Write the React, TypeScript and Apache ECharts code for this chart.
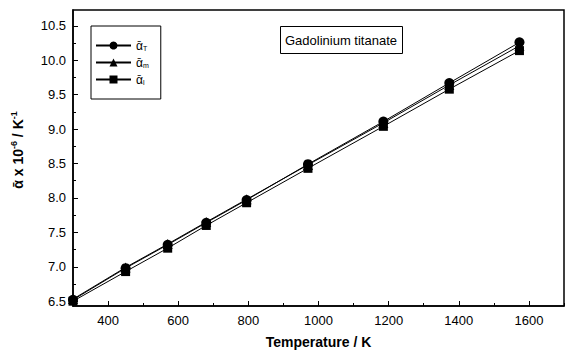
import React, { useEffect, useRef } from "react";
import * as echarts from "echarts";

const temps = [300, 450, 570, 680, 795, 970, 1185, 1373, 1573];
const alphaT = [6.52, 6.98, 7.32, 7.64, 7.97, 8.49, 9.11, 9.67, 10.26];
const alphaM = [6.53, 6.99, 7.33, 7.65, 7.98, 8.48, 9.09, 9.64, 10.21];
const alphaL = [6.5, 6.93, 7.27, 7.6, 7.93, 8.43, 9.04, 9.58, 10.14];
const seriesNames = ["T", "m", "l"];
const xLabels = [400, 600, 800, 1000, 1200, 1400, 1600];
const xMinor = [300, 500, 700, 900, 1100, 1300, 1500, 1700];
const yLabels = [6.5, 7.0, 7.5, 8.0, 8.5, 9.0, 9.5, 10.0, 10.5];
const yMinor = [6.75, 7.25, 7.75, 8.25, 8.75, 9.25, 9.75, 10.25];

const FONT = "'Liberation Sans', Arial, Helvetica, sans-serif";

export default function App() {
  const ref = useRef<HTMLDivElement>(null);
  useEffect(() => {
    if (!ref.current) return;
    const chart = echarts.init(ref.current, undefined, { renderer: "svg" });
    const mk = (vals: number[]) => temps.map((t, i) => [t, vals[i]]);
    const symbols = ["circle", "triangle", "rect"];
    const sizes = [10, 10, 9];
    const datasets = [alphaT, alphaM, alphaL];
    const baseX = {
      type: "value",
      min: 300,
      max: 1700,
      gridIndex: 0,
      position: "bottom",
      splitLine: { show: false },
    };
    const baseY = {
      type: "value",
      min: 6.43,
      max: 10.73,
      position: "left",
      splitLine: { show: false },
    };
    chart.setOption({
      animation: false,
      textStyle: { fontFamily: FONT },
      grid: {
        left: 73,
        top: 10,
        right: 3,
        bottom: 46,
        show: true,
        borderColor: "#000",
        borderWidth: 1.5,
        backgroundColor: "transparent",
      },
      xAxis: [
        {
          ...baseX,
          axisLine: { show: true, lineStyle: { color: "#000", width: 1.5 } },
          axisTick: { show: true, inside: true, length: 5, customValues: xLabels, lineStyle: { color: "#000", width: 1 } },
          axisLabel: {
            customValues: xLabels,
            color: "#000",
            fontSize: 13,
            margin: 8,
            fontFamily: FONT,
            formatter: (v: number) => String(v),
          },
          name: "Temperature / K",
          nameLocation: "middle",
          nameGap: 29,
          nameTextStyle: { color: "#000", fontSize: 14, fontWeight: "bold", fontFamily: FONT },
        },
        {
          ...baseX,
          axisLine: { show: false },
          axisTick: { show: true, inside: true, length: 3, customValues: xMinor, lineStyle: { color: "#000", width: 1 } },
          axisLabel: { show: false },
        },
      ],
      yAxis: [
        {
          ...baseY,
          axisLine: { show: true, lineStyle: { color: "#000", width: 1.5 } },
          axisTick: { show: true, inside: true, length: 5, customValues: yLabels, lineStyle: { color: "#000", width: 1 } },
          axisLabel: {
            customValues: yLabels,
            color: "#000",
            fontSize: 13,
            margin: 7,
            fontFamily: FONT,
            formatter: (v: number) => v.toFixed(1),
          },
        },
        {
          ...baseY,
          axisLine: { show: false },
          axisTick: { show: true, inside: true, length: 3, customValues: yMinor, lineStyle: { color: "#000", width: 1 } },
          axisLabel: { show: false },
        },
      ],
      legend: {
        left: 91,
        top: 26,
        orient: "vertical",
        itemWidth: 35,
        itemHeight: 10,
        itemGap: 4,
        padding: [13, 12, 13, 4],
        borderColor: "#000",
        borderWidth: 1,
        borderRadius: 0,
        data: seriesNames,
        formatter: (n: string) => `{a|ᾱ}{s|${n}}`,
        textStyle: {
          color: "#000",
          fontFamily: FONT,
          rich: {
            a: { fontSize: 12, color: "#000", fontFamily: FONT, lineHeight: 14 },
            s: { fontSize: 7, color: "#000", fontFamily: FONT, lineHeight: 14, padding: [6, 0, 0, 0] },
          },
        },
      },
      graphic: [
        {
          type: "rect",
          left: 280,
          top: 26,
          shape: { width: 122, height: 27 },
          style: { fill: "#fff", stroke: "#000", lineWidth: 1 },
          z: 10,
        },
        {
          type: "text",
          x: 341,
          y: 40,
          style: {
            text: "Gadolinium titanate",
            fill: "#000",
            font: `13px ${FONT}`,
            align: "center",
            verticalAlign: "middle",
          },
          z: 11,
        },
        {
          type: "text",
          x: 18,
          y: 150,
          rotation: Math.PI / 2,
          style: {
            text: "{b|ᾱ x 10}{sup|-6}{b| / K}{sup|-1}",
            align: "center",
            verticalAlign: "middle",
            fill: "#000",
            rich: {
              b: { fontSize: 14, fontWeight: "bold", fontFamily: FONT, fill: "#000" },
              sup: { fontSize: 9, fontWeight: "bold", fontFamily: FONT, fill: "#000", padding: [0, 0, 8, 0] },
            },
          },
        },
      ],
      series: datasets.map((vals, i) => ({
        name: seriesNames[i],
        type: "line",
        xAxisIndex: 0,
        yAxisIndex: 0,
        data: mk(vals),
        symbol: symbols[i],
        symbolSize: sizes[i],
        showSymbol: true,
        lineStyle: { color: "#000", width: 1 },
        itemStyle: { color: "#000" },
        clip: true,
      })),
    });
    return () => chart.dispose();
  }, []);
  return <div ref={ref} style={{ width: 567, height: 354, position: "absolute", left: 0, top: 0 }} />;
}
